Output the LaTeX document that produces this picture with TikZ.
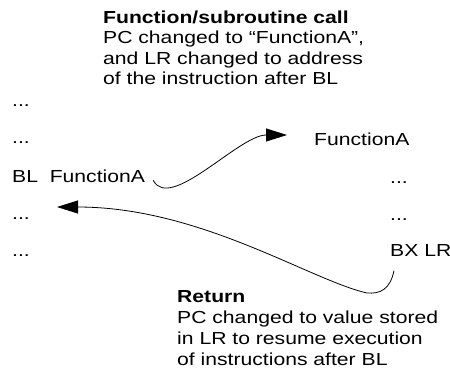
\documentclass[tikz,border=0pt]{standalone}
\usepackage{fontspec}
\setmainfont{Liberation Sans}[FakeStretch=1.215]
\usetikzlibrary{arrows.meta,calc,positioning}

\begin{document}
\begin{tikzpicture}[x=1pt, y=-1pt,
    txt/.style={inner sep=0pt, anchor=base west, font=\fontsize{17.4}{20.4}\selectfont},
    blk/.style={inner sep=0pt, anchor=north west, align=left, font=\fontsize{17.4}{20.4}\selectfont},
    jump/.style={-{Triangle[length=21pt, width=13pt]}, line width=0.8pt}]

\useasboundingbox (0,0) rectangle (450,384);

% caller side
\node[txt] (dotsA) at (12,106.7) {...};
\node[txt] (dotsB) at (12,143.5) {...};
\node[txt] (blcall) at (12,182.3) {BL\ \ FunctionA};
\node[txt] (dotsC) at (12,219.5) {...};
\node[txt] (dotsD) at (12,256.5) {...};

% callee side
\node[txt] (funcA) at (314,145) {FunctionA};
\node[txt] (dotsE) at (390,183.3) {...};
\node[txt] (dotsF) at (390,220) {...};
\node[txt] (bxlr) at (390,256.7) {BX LR};

% notes
\node[blk] (callnote) at (103,10.5) {\textbf{Function/subroutine call}\\
PC changed to “FunctionA”,\\and LR changed to address\\of the instruction after BL};
\node[blk] (retnote) at (177,290.2) {\textbf{Return}\\[0.6pt]
PC changed to value stored\\[0.6pt]in LR to resume execution\\[0.6pt]of instructions after BL};

\coordinate (callfrom) at ($(blcall.base east)+(8,-2)$);
\coordinate (callto) at ($(funcA.base west)+(-27,-10)$);
\coordinate (retfrom) at ($(bxlr.base west)+(4,14)$);
\coordinate (retlow) at (367,293);
\coordinate (retto) at ($(dotsC.base west)+(45,-12.5)$);

\draw[jump] (callfrom) .. controls ++(17,32) and ++(-48,0) .. (callto);
\draw[jump] (retfrom) .. controls ++(-4,19) and ++(13,1) .. (retlow)
  .. controls ++(-57,-13) and ++(143,0) .. (retto);

\end{tikzpicture}
\end{document}
